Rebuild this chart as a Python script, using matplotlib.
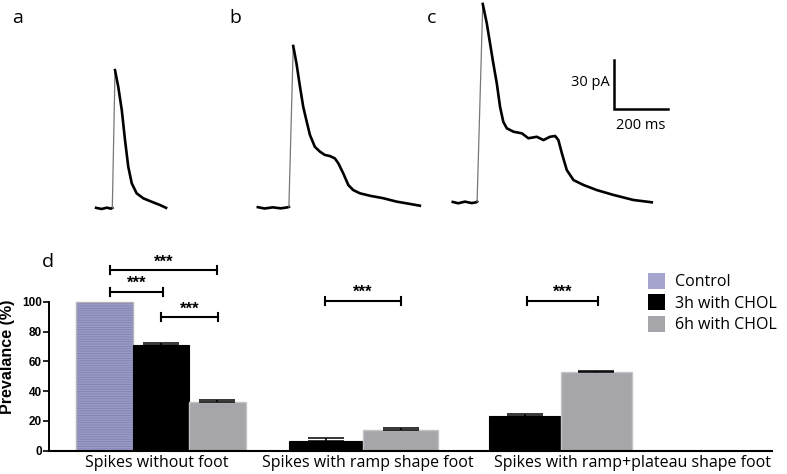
import numpy as np
import matplotlib.pyplot as plt
from matplotlib.patches import Patch

# --- amperometric spikes (time in ms from onset, current in pA above baseline)
t_a = [-60, -40, -20, -5, 0, 10, 22, 35, 47, 59, 72, 90, 115, 146, 177, 199]
i_a = [0.3, -0.4, 0.4, -0.2, 0.3, 84.6, 74.4, 60.2, 41.8, 25.5, 15.3, 9.2, 6.1, 4.0, 2.0, 0.3]

t_b = [-115, -90, -60, -30, -5, 0, 16, 28, 41, 53, 66, 78, 96, 115, 133, 152, 170,
       183, 201, 220, 238, 263, 300, 349, 399, 448, 485]
i_b = [0.3, -0.5, 0.2, -0.4, 0.2, 0.5, 99.0, 88.4, 74.1, 61.8, 52.6, 44.5, 37.3, 34.3,
       32.3, 31.6, 30.2, 27.2, 21.1, 13.9, 10.8, 8.8, 7.3, 5.8, 3.7, 2.3, 1.2]

t_c = [-90, -70, -45, -20, -3, 0, 21, 36, 48, 60, 73, 85, 97, 110, 135, 166, 190, 221,
       246, 270, 289, 301, 314, 332, 357, 394, 443, 505, 579, 647]
i_c = [0.2, -0.6, 0.4, -0.5, 0.0, 0.4, 121.4, 109.5, 97.3, 85.1, 72.8, 58.5, 49.3, 45.3,
       43.2, 42.2, 39.2, 40.1, 38.1, 40.1, 40.6, 38.1, 30.0, 19.8, 13.6, 10.6, 7.5, 4.5,
       1.4, 0.0]

# --- prevalence of spike types (%)
groups = ['Spikes without foot', 'Spikes with ramp shape foot',
          'Spikes with ramp+plateau shape foot']
series = ['Control', '3h with CHOL', '6h with CHOL']
control = [100, 0, 0]
chol_3h = [71.0, 6.5, 23.5]
chol_3h_err = [1.3, 2.0, 1.3]
chol_6h = [32.5, 14.2, 52.7]
chol_6h_err = [1.6, 0.8, 0.9]

fig = plt.figure(figsize=(7.87, 4.74), dpi=100)

# ---------------- traces a, b, c ----------------
ms_per_px = 200 / 54
pa_per_px = 30 / 49
axt = fig.add_axes([0, 244 / 474, 1, 230 / 474])
axt.set_xlim(0, 787 * ms_per_px)
axt.set_ylim(-22 * pa_per_px, 208 * pa_per_px)
axt.axis('off')

onsets = [416, 1070, 1767]
baselines = [-0.2, 0.2, 3.5]
for (t, i), t0, b0 in zip([(t_a, i_a), (t_b, i_b), (t_c, i_c)], onsets, baselines):
    x = np.array(t) + t0
    y = np.array(i) + b0
    k = int(np.argmax(y))
    # fast rising phase is drawn thin and grey, the rest noisy/thick
    axt.plot(x[:k], y[:k], color='black', lw=1.9, solid_joinstyle='round')
    axt.plot(x[k - 1:k + 1], y[k - 1:k + 1], color='#777777', lw=0.9)
    axt.plot(x[k:], y[k:], color='black', lw=1.9, solid_joinstyle='round')

# scale bar 30 pA / 200 ms
sx, sy = 2274, 60.6
axt.plot([sx, sx, sx + 200], [sy + 30, sy, sy], color='black', lw=1.8,
         solid_joinstyle='miter')
axt.text(sx - 15, sy + 16.5, '30 pA', ha='right', va='center', fontsize=10.5,
         family='Open Sans')
axt.text(sx + 100, sy - 10, '200 ms', ha='center', va='center', fontsize=10.5,
         family='Open Sans')

for lab, x, y in [('a', 18, 18), ('b', 235, 18), ('c', 432, 18), ('d', 48, 262)]:
    fig.text(x / 787, 1 - y / 474, lab, ha='center', va='center', fontsize=14,
             family='Open Sans')

# ---------------- bar chart d ----------------
ax = fig.add_axes([49 / 787, 23.3 / 474, 723 / 787, 200.7 / 474])
centers = np.array([1.12, 2.77, 4.76])
widths = np.array([0.565, 0.75, 0.71])

ctrl_face = '#9a9ac6'
grey = '#a5a5aa'
plt.rcParams['hatch.linewidth'] = 0.6
ax.bar(centers - widths, control, widths, align='center', color=ctrl_face,
       edgecolor='#8383b0', hatch='-------', linewidth=0)
ax.bar(centers - widths, control, widths, align='center', fill=False,
       edgecolor='#b4b4b8', linewidth=1.0)
ax.bar(centers, chol_3h, widths, color='black', edgecolor='black', linewidth=0.8)
ax.bar(centers + widths, chol_6h, widths, color=grey, edgecolor='#c4c4c6',
       linewidth=1.0)

zeros = [0, 0, 0]
ax.errorbar(centers, chol_3h, yerr=[zeros, chol_3h_err], fmt='none', ecolor='black',
            elinewidth=1.2, capsize=13, capthick=1.1)
ax.errorbar(centers + widths, chol_6h, yerr=[zeros, chol_6h_err], fmt='none',
            ecolor='black', elinewidth=1.2, capsize=13, capthick=1.1)

# significance brackets
brackets = [(0.61, 1.685, 121.3), (0.61, 1.14, 106.7), (1.12, 1.69, 89.7),
            (2.76, 3.52, 100.5), (4.78, 5.49, 100.7)]
for x1, x2, y in brackets:
    ax.plot([x1, x2], [y, y], color='black', lw=1.5)
    ax.plot([x1, x1], [y - 2.7, y + 2.7], color='black', lw=1.5)
    ax.plot([x2, x2], [y - 2.7, y + 2.7], color='black', lw=1.5)
    ax.annotate('***', ((x1 + x2) / 2, y), xytext=(0, 0.5), textcoords='offset points',
                ha='center', va='bottom', fontsize=12, family='Liberation Sans',
                fontweight='bold')

ax.set_xlim(0, 7.23)
ax.set_ylim(0, 134.7)
ax.spines['top'].set_visible(False)
ax.spines['right'].set_visible(False)
ax.spines['left'].set_bounds(0, 100)
ax.spines['left'].set_linewidth(1.4)
ax.spines['bottom'].set_linewidth(1.5)
ax.set_yticks(range(0, 101, 20))
ax.set_yticklabels([str(v) for v in range(0, 101, 20)], fontsize=8.5,
                   fontweight='bold', family='Liberation Sans')
ax.tick_params(axis='y', length=4.3, width=1.2, pad=1)
ax.set_xticks([1.08, 3.185, 5.835])
ax.set_xticklabels(groups, fontsize=11.5, family='Open Sans')
ax.tick_params(axis='x', length=0, pad=3)
ax.set_ylabel('Prevalance (%)', fontsize=11.6, fontweight='bold',
              family='Liberation Sans')
ax.yaxis.set_label_coords(-0.047, 0.469)

handles = [Patch(facecolor='#a4a4cf', edgecolor='none'),
           Patch(facecolor='black', edgecolor='none'),
           Patch(facecolor=grey, edgecolor='none')]
fig.legend(handles, series, loc='upper left', bbox_to_anchor=(648 / 787, 1 - 273 / 474),
           frameon=False, prop={'family': 'Open Sans', 'size': 11.5},
           handlelength=1.05, handleheight=1.15, handletextpad=0.65, labelspacing=0.25,
           borderpad=0, borderaxespad=0)

fig.savefig('out.png', dpi=100)
